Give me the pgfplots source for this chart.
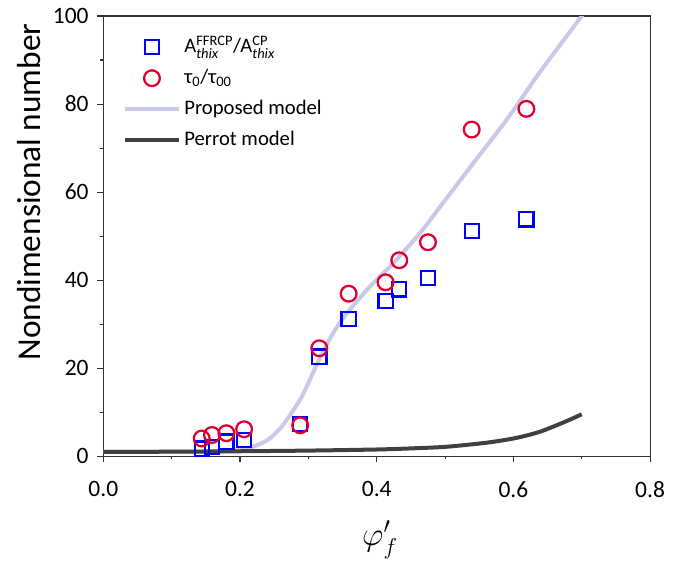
\documentclass[border=0pt]{standalone}
\usepackage{fontspec}
\setmainfont{Carlito}
\usepackage{amsmath}
\usepackage{pgfplots}
\pgfplotsset{compat=1.18}
\definecolor{propcol}{RGB}{200,200,232}
\definecolor{perrcol}{RGB}{64,64,64}
\definecolor{circcol}{RGB}{225,0,45}
\begin{document}
\begin{tikzpicture}
\begin{axis}[
    scale only axis,
    width=410pt, height=330pt,
    xmin=0, xmax=0.8, ymin=0, ymax=100,
    xtick={0,0.2,0.4,0.6,0.8},
    minor xtick={0.1,0.3,0.5,0.7},
    ytick={0,20,40,60,80,100},
    minor ytick={10,30,50,70,90},
    tick align=outside, tick pos=left,
    major tick length=4.5pt, minor tick length=2.5pt,
    axis line style={black!80, line width=0.8pt},
    every tick/.style={black!80, line width=0.8pt},
    /pgf/number format/assume math mode=true,
    tick label style={font=\fontsize{17.6}{20}\selectfont},
    x tick label style={/pgf/number format/.cd, fixed, fixed zerofill, precision=1, /tikz/.cd, yshift=-11pt},
    y tick label style={xshift=-3pt},
    xlabel={$\varphi'_f$},
    ylabel={Nondimensional number},
    every axis x label/.style={at={(axis description cs:0.506,-0.19)}, anchor=center, font=\fontsize{24}{28}\selectfont},
    every axis y label/.style={at={(axis description cs:-0.1354,0.6)}, rotate=90, anchor=center, font=\fontsize{25}{29}\selectfont},
    legend cell align=left,
    legend style={at={(0.036,0.965)}, anchor=north west, draw=none, fill=none,
        inner sep=0pt, font=\fontsize{15.5}{18}\selectfont,
        nodes={inner ysep=0pt, inner xsep=0pt, text height=15.5pt, text depth=7.75pt},
        /tikz/every odd column/.style={column sep=2.8pt}},
    legend image code/.code={\draw[mark repeat=2, mark phase=2] plot coordinates {(0pt,0pt) (20pt,0pt) (40pt,0pt)};},
]
\coordinate (bbl) at (rel axis cs:-0.189,-0.2364);
\coordinate (btr) at (rel axis cs:1.073,1.0364);

\addplot[only marks, mark=square, mark size=5.3pt, blue, line width=1.7pt] coordinates {
    (0.144,1.7) (0.159,2.1) (0.180,3.3) (0.206,3.7) (0.288,7.3) (0.316,22.6)
    (0.359,31.2) (0.413,35.2) (0.433,37.9) (0.475,40.5) (0.539,51.1) (0.619,53.8)
};
\addlegendentry{A$^{\text{FFRCP}}_{\text{\itshape thix}}$/A$^{\text{CP}}_{\text{\itshape thix}}$}

\addplot[only marks, mark=o, mark size=5.9pt, circcol, line width=1.7pt] coordinates {
    (0.144,4.0) (0.159,4.8) (0.180,5.2) (0.206,6.1) (0.288,7.0) (0.316,24.5)
    (0.359,36.9) (0.413,39.5) (0.433,44.5) (0.475,48.6) (0.539,74.2) (0.619,78.9)
};
\addlegendentry{τ$_{\text{0}}$/τ$_{\text{00}}$}

\addplot[propcol, line width=3pt, smooth, no marks] coordinates {
    (0,1.0) (0.1,1.0) (0.15,1.0) (0.18,1.1) (0.2,1.4) (0.21,1.7) (0.22,2.2)
    (0.23,2.8) (0.24,3.6) (0.25,4.9) (0.26,6.5) (0.27,8.6) (0.28,10.9)
    (0.29,13.4) (0.30,16.6) (0.31,20.0) (0.32,23.3) (0.336,27.9) (0.356,32.4)
    (0.390,38.5) (0.424,43.8) (0.463,50.6) (0.493,56.7) (0.541,66.5)
    (0.590,76.4) (0.639,87.3) (0.700,100.0) (0.705,101)
};
\addlegendentry{Proposed model}

\addplot[perrcol, line width=3pt, smooth, no marks] coordinates {
    (0,0.95) (0.1,1.0) (0.2,1.1) (0.3,1.25) (0.4,1.5) (0.45,1.75) (0.5,2.1)
    (0.55,2.85) (0.575,3.35) (0.6,4.0) (0.62,4.7) (0.64,5.6) (0.66,6.8)
    (0.68,8.1) (0.7,9.5)
};
\addlegendentry{Perrot model}
\end{axis}
\pgfresetboundingbox
\path[use as bounding box] (bbl) rectangle (btr);
\end{tikzpicture}
\end{document}
